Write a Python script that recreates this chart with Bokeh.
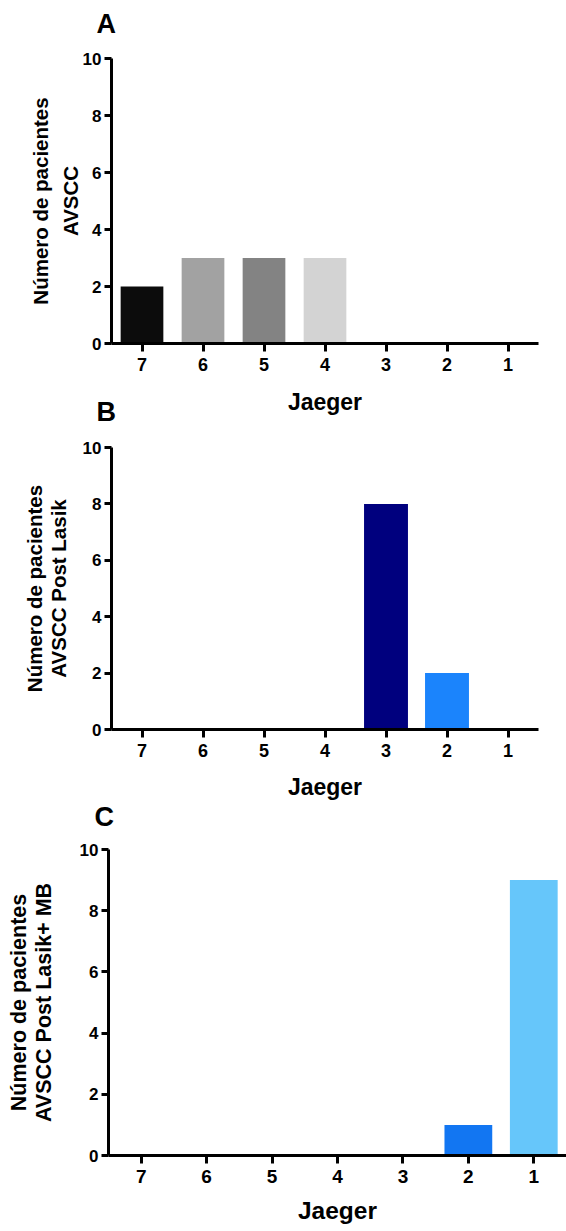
from bokeh.plotting import figure
from bokeh.layouts import column
from bokeh.models import FactorRange, Range1d, FixedTicker, ColumnDataSource
from bokeh.embed import file_html
from bokeh.resources import INLINE

# ---- data ----
jaeger = ["7", "6", "5", "4", "3", "2", "1"]
pacientes_a = [2, 3, 3, 3, 0, 0, 0]
pacientes_b = [0, 0, 0, 0, 8, 2, 0]
pacientes_c = [0, 0, 0, 0, 0, 1, 9]
colores_a = ["#0c0c0c", "#a2a2a2", "#838383", "#d3d3d3", "#ffffff", "#ffffff", "#ffffff"]
colores_b = ["#ffffff", "#ffffff", "#ffffff", "#ffffff", "#00007e", "#1b84fc", "#ffffff"]
colores_c = ["#ffffff", "#ffffff", "#ffffff", "#ffffff", "#ffffff", "#1276f2", "#66c6fa"]
y_ticks = [0, 2, 4, 6, 8, 10]
y_label_a = "Número de pacientes\nAVSCC"
y_label_b = "Número de pacientes\nAVSCC Post Lasik"
y_label_c = "Número de pacientes\nAVSCC Post Lasik+ MB"
x_label = "Jaeger"

FONT = "Liberation Sans"


def panel(letter, values, colors, ylabel, width, height, bl, br, bt, bb, bar_w, fs):
    p = figure(x_range=FactorRange(*jaeger), y_range=Range1d(0, 10),
               width=width, height=height, output_backend="svg",
               toolbar_location=None, min_border_left=bl, min_border_right=br,
               min_border_top=bt, min_border_bottom=bb, title=letter)
    p.frame_align = False
    src = ColumnDataSource(dict(x=jaeger, top=values, color=colors))
    p.vbar(x="x", top="top", width=bar_w, source=src, fill_color="color",
           line_color=None)
    p.outline_line_color = None
    p.border_fill_color = None
    p.xgrid.grid_line_color = None
    p.ygrid.grid_line_color = None
    p.title.align = "left"
    p.title.offset = fs['to']
    p.title.standoff = fs['ts']
    p.title.text_font = FONT
    p.title.text_font_style = "bold"
    p.title.text_font_size = "27px"
    p.title.text_color = "black"
    for ax in (p.xaxis[0], p.yaxis[0]):
        ax.axis_line_width = 3
        ax.axis_line_color = "black"
        ax.major_tick_line_width = 3
        ax.major_tick_in = 0
        ax.minor_tick_line_color = None
        ax.major_label_text_font = FONT
        ax.major_label_text_font_style = "bold"
        ax.major_label_text_color = "black"
        ax.axis_label_text_font = FONT
        ax.axis_label_text_font_style = "bold"
        ax.axis_label_text_color = "black"
    p.yaxis.ticker = FixedTicker(ticks=y_ticks)
    p.yaxis.major_tick_out = 7
    p.yaxis.major_label_standoff = 3
    p.yaxis.major_label_text_font_size = f"{fs['yt']}px"
    p.yaxis.axis_label = ylabel
    p.yaxis.axis_label_text_font_size = f"{fs['yl']}px"
    p.yaxis.axis_label_text_line_height = fs['lh']
    p.yaxis.axis_label_standoff = fs['ys']
    p.xaxis.major_tick_out = 8
    p.xaxis.major_label_standoff = 6
    p.xaxis.major_label_text_font_size = f"{fs['xt']}px"
    p.xaxis.axis_label = x_label
    p.xaxis.axis_label_text_font_size = f"{fs['xl']}px"
    p.xaxis.axis_label_standoff = fs['xs']
    return p


fs_a = dict(yt=17, yl=20.5, lh=1.3, ys=-2, xt=18, xl=23, xs=15, to=-15, ts=40)
fs_b = dict(yt=17, yl=20.5, lh=1.02, ys=10, xt=18, xl=23, xs=14, to=-15, ts=41)
fs_c = dict(yt=17, yl=21.5, lh=1.03, ys=21, xt=19, xl=24.5, xs=11, to=-14, ts=36)

pa = panel("A", pacientes_a, colores_a, y_label_a, 566, 434, 111, 28, 72, 77, 0.7, fs_a)
pb = panel("B", pacientes_b, colores_b, y_label_b, 566, 428, 111, 28, 73, 70, 0.72, fs_b)
pc = panel("C", pacientes_c, colores_c, y_label_c, 566, 450, 108, 0, 68, 76, 0.73, fs_c)

# panels slide up so their letters sit beside the previous "Jaeger"
pa.margin = (-14, 0, 0, 0)
pb.margin = (-46, 0, 0, 0)
pc.margin = (-21, 0, 0, 0)

layout = column(pa, pb, pc, spacing=0)
open("out.html", "w").write(file_html(layout, INLINE))
